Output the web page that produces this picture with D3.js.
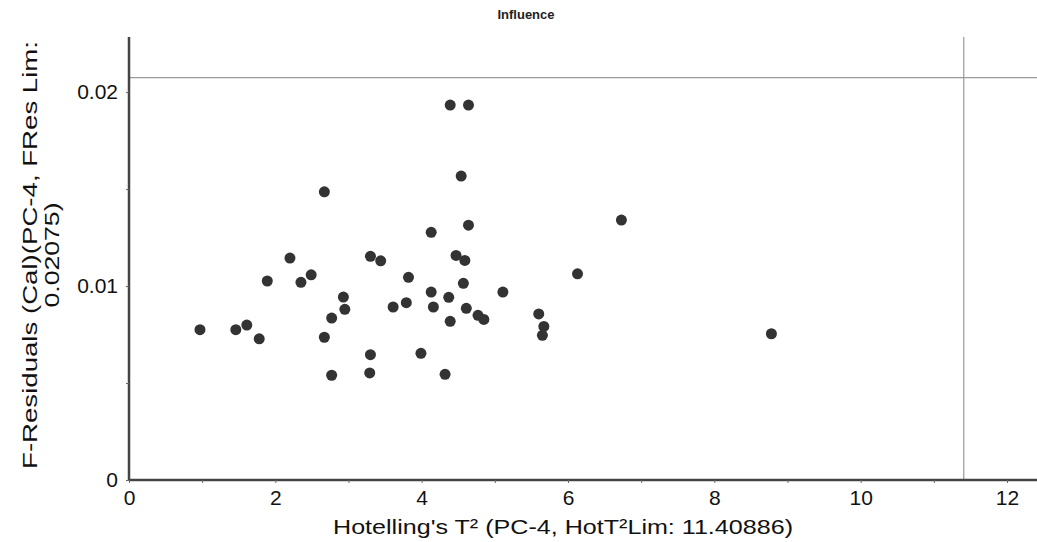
<!DOCTYPE html>
<html>
<head>
<meta charset="utf-8">
<script src="https://cdn.jsdelivr.net/npm/d3@7"></script>
<style>
  body { margin: 0; background: #fff; }
  svg { display: block; font-family: "Liberation Sans", Arial, sans-serif; }
</style>
</head>
<body>
<svg id="chart"></svg>
<script>
// Hotelling's T² values of the samples
const hotT2 = [
  4.39, 4.64, 4.54, 2.67, 4.64, 4.13, 2.20, 3.30, 3.44, 4.47,
  4.59, 1.89, 2.49, 2.35, 3.82, 4.57, 4.13, 4.37, 5.11, 2.93,
  2.95, 3.61, 3.79, 4.16, 4.61, 4.77, 4.85, 2.77, 4.39, 0.97,
  1.46, 1.61, 1.78, 2.67, 3.30, 3.99, 2.77, 3.29, 4.32, 6.73,
  6.13, 5.60, 5.67, 5.65, 8.78
];
// F-residuals of the same samples
const fRes = [
  0.01933, 0.01933, 0.01567, 0.01486, 0.01314, 0.01277, 0.01144, 0.01153, 0.01130, 0.01158,
  0.01132, 0.01026, 0.01058, 0.01019, 0.01045, 0.01014, 0.00969, 0.00942, 0.00969, 0.00943,
  0.00880, 0.00892, 0.00914, 0.00892, 0.00885, 0.00849, 0.00828, 0.00835, 0.00818, 0.00775,
  0.00775, 0.00799, 0.00728, 0.00736, 0.00646, 0.00653, 0.00540, 0.00552, 0.00545, 0.01340,
  0.01063, 0.00856, 0.00792, 0.00746, 0.00754
];
const hotLimit = 11.40886;
const fResLimit = 0.02075;

const xTickValues = [0, 1, 2, 3, 4, 5, 6, 7, 8, 9, 10, 11, 12];
const xTickLabels = ["0", "", "2", "", "4", "", "6", "", "8", "", "10", "", "12"];
const yTickValues = [0, 0.005, 0.01, 0.015, 0.02];
const yTickLabels = ["0", "", "0.01", "", "0.02"];

const width = 1037;
const height = 542;
const margin = { top: 37, right: 0, bottom: 62, left: 129 };

const svg = d3.select("#chart").attr("width", width).attr("height", height);

const x = d3.scaleLinear()
  .domain([0, 12.41])
  .range([margin.left, width - margin.right]);

const y = d3.scaleLinear()
  .domain([0, 0.02284])
  .range([height - margin.bottom, margin.top]);

const points = hotT2.map((h, i) => ({ h: h, f: fRes[i] }));

// title
svg.append("text")
  .attr("x", 526)
  .attr("y", 19)
  .attr("text-anchor", "middle")
  .attr("font-weight", "bold")
  .attr("font-size", "13px")
  .attr("fill", "#222")
  .text("Influence");

// limit lines
svg.append("line")
  .attr("x1", x(0)).attr("x2", width)
  .attr("y1", y(fResLimit)).attr("y2", y(fResLimit))
  .attr("stroke", "#999").attr("stroke-width", 1.2);

svg.append("line")
  .attr("x1", x(hotLimit)).attr("x2", x(hotLimit))
  .attr("y1", margin.top).attr("y2", y(0))
  .attr("stroke", "#999").attr("stroke-width", 1.2);

// axes
const xAxis = d3.axisBottom(x)
  .tickValues(xTickValues)
  .tickFormat((d, i) => xTickLabels[i])
  .tickSizeInner(3)
  .tickSizeOuter(0)
  .tickPadding(7);

const yAxis = d3.axisLeft(y)
  .tickValues(yTickValues)
  .tickFormat((d, i) => yTickLabels[i])
  .tickSizeInner(3)
  .tickSizeOuter(0)
  .tickPadding(8);

const gx = svg.append("g")
  .attr("transform", `translate(0, ${y(0)})`)
  .call(xAxis);

const gy = svg.append("g")
  .attr("transform", `translate(${x(0)}, 0)`)
  .call(yAxis);

[gx, gy].forEach((g) => {
  g.select(".domain").attr("stroke", "#444").attr("stroke-width", 2.5);
  g.selectAll(".tick line").attr("stroke", "#666");
  g.selectAll(".tick text")
    .attr("font-size", "21px")
    .attr("fill", "#111")
    .attr("font-family", "Liberation Sans, Arial, sans-serif");
});
gy.select(".domain").attr("d", `M0,${margin.top}V${y(0)}`);
gx.select(".domain").attr("d", `M${x(0)},0H${width}`);

// points
svg.append("g")
  .selectAll("circle")
  .data(points)
  .enter()
  .append("circle")
  .attr("cx", (d) => x(d.h))
  .attr("cy", (d) => y(d.f))
  .attr("r", 5.5)
  .attr("fill", "#333");

// axis titles
svg.append("text")
  .attr("x", 563)
  .attr("y", 534)
  .attr("text-anchor", "middle")
  .attr("font-size", "21px")
  .attr("textLength", 460)
  .attr("lengthAdjust", "spacingAndGlyphs")
  .attr("fill", "#111")
  .text("Hotelling's T² (PC-4, HotT²Lim: 11.40886)");

const yTitle = svg.append("text")
  .attr("transform", `translate(37, 255) rotate(-90)`)
  .attr("text-anchor", "middle")
  .attr("font-size", "21px")
  .attr("fill", "#111");
yTitle.append("tspan").attr("x", 0).attr("y", 0)
  .attr("textLength", 428).attr("lengthAdjust", "spacingAndGlyphs")
  .text("F-Residuals (Cal)(PC-4, FRes Lim:");
yTitle.append("tspan").attr("x", 0).attr("y", 22)
  .attr("textLength", 105).attr("lengthAdjust", "spacingAndGlyphs")
  .text("0.02075)");
</script>
</body>
</html>
